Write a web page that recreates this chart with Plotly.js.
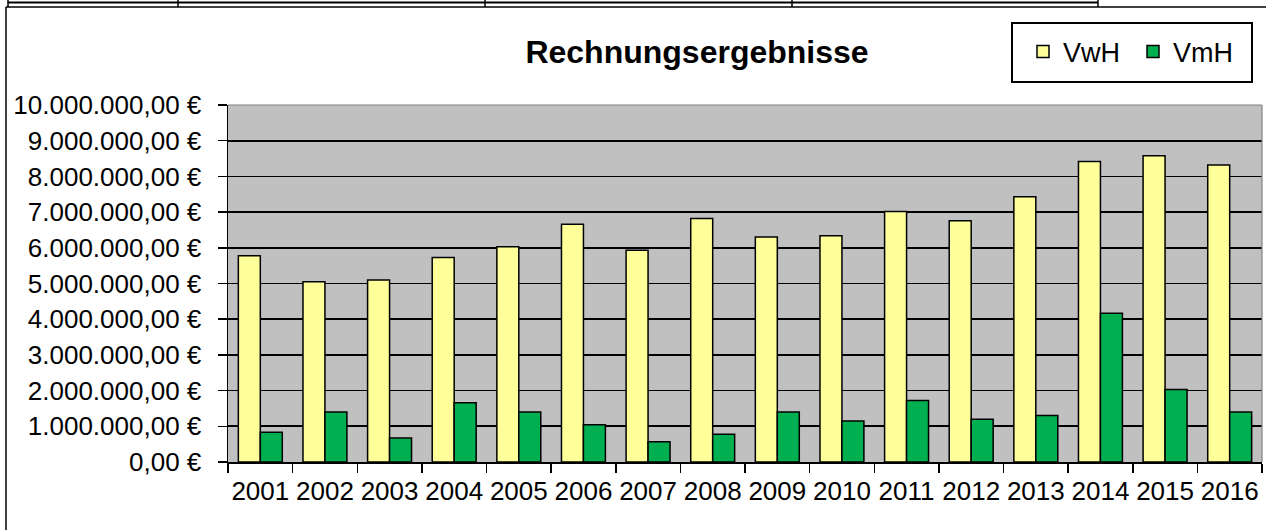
<!DOCTYPE html>
<html>
<head>
<meta charset="utf-8">
<script src="https://cdn.plot.ly/plotly-3.0.1.min.js"></script>
<style>
  html, body { margin: 0; padding: 0; background: #ffffff; }
  #chart { width: 1266px; height: 530px; }
</style>
</head>
<body>
<div id="chart"></div>
<script>
// ---- data ----
const years = ["2001","2002","2003","2004","2005","2006","2007","2008",
               "2009","2010","2011","2012","2013","2014","2015","2016"];
const vwh = [5780000, 5050000, 5100000, 5730000, 6030000, 6660000, 5930000, 6820000,
             6300000, 6340000, 7020000, 6760000, 7430000, 8420000, 8580000, 8320000];
const vmh = [830000, 1400000, 670000, 1660000, 1400000, 1040000, 570000, 780000,
             1400000, 1150000, 1720000, 1200000, 1300000, 4170000, 2030000, 1400000];
const seriesNames = ["VwH", "VmH"];
const chartTitle = "Rechnungsergebnisse";

// ---- geometry helpers (pixel -> paper) ----
const W = 1266, H = 530;
const L = 228, R = 1262, T = 105, B = 462;
const px = x => (x - L) / (R - L);
const py = y => (B - y) / (B - T);

const FONT = "Liberation Sans, Arial, sans-serif";

const traces = [
  {
    type: "bar", name: seriesNames[0], x: years, y: vwh,
    marker: { color: "#FFFF99", line: { color: "#000000", width: 1.5 } },
    hoverinfo: "skip"
  },
  {
    type: "bar", name: seriesNames[1], x: years, y: vmh,
    marker: { color: "#00B050", line: { color: "#000000", width: 1.5 } },
    hoverinfo: "skip"
  }
];

function line(x0, y0, x1, y1, color, width) {
  return { type: "line", xref: "paper", yref: "paper",
           x0: px(x0), y0: py(y0), x1: px(x1), y1: py(y1),
           line: { color: color, width: width }, layer: "above" };
}

const shapes = [
  // plot-area border (light gray top/right)
  line(L, T, R, T, "#808080", 1.2),
  line(R, T, R, B, "#808080", 1.2),
  // chart frame
  line(6, 7, 6, 530, "#000000", 1.5),
  line(6, 7, 1266, 7, "#000000", 1.5),
  // table fragment at top
  line(8, 2.5, 1098, 2.5, "#000000", 2),
  line(8, 0, 8, 7, "#000000", 1.5),
  line(178, 0, 178, 7, "#000000", 1.5),
  line(485, 0, 485, 7, "#000000", 1.5),
  line(792, 0, 792, 7, "#000000", 1.5),
  line(1098, 0, 1098, 7, "#000000", 1.5),
  // legend box
  { type: "rect", xref: "paper", yref: "paper",
    x0: px(1012), y0: py(23), x1: px(1252), y1: py(82),
    line: { color: "#000000", width: 2 }, fillcolor: "rgba(0,0,0,0)", layer: "above" }
];

const layout = {
  width: W, height: H,
  margin: { l: L, r: W - R, t: T, b: H - B, pad: 0 },
  paper_bgcolor: "#ffffff",
  plot_bgcolor: "#C0C0C0",
  separators: ",.",
  font: { family: FONT, color: "#000000", size: 26 },
  barmode: "group",
  bargap: 0.32,
  bargroupgap: 0,
  title: {
    text: "<b>" + chartTitle + "</b>",
    font: { family: FONT, size: 32, color: "#000000" },
    x: 697 / W, xanchor: "center", xref: "container",
    y: 1 - 52 / H, yanchor: "middle", yref: "container"
  },
  xaxis: {
    type: "category",
    showgrid: false,
    showline: true, linecolor: "#000000", linewidth: 1.5,
    ticks: "outside", tickson: "boundaries", ticklen: 9, tickwidth: 1.5, tickcolor: "#000000",
    tickangle: 0,
    ticklabelstandoff: 5,
    tickfont: { family: FONT, size: 26, color: "#000000" },
    fixedrange: true
  },
  yaxis: {
    range: [0, 10000000],
    dtick: 1000000, tick0: 0,
    tickformat: ",.2f", ticksuffix: " €",
    showgrid: true, gridcolor: "#000000", gridwidth: 1.6,
    zeroline: false,
    showline: true, linecolor: "#000000", linewidth: 1.5,
    ticks: "outside", ticklen: 9, tickwidth: 1.5, tickcolor: "#000000",
    ticklabelstandoff: 11,
    tickfont: { family: FONT, size: 26, color: "#000000" },
    fixedrange: true
  },
  showlegend: true,
  legend: {
    orientation: "h",
    x: px(1023), xanchor: "left",
    y: py(52), yanchor: "middle",
    bgcolor: "rgba(0,0,0,0)", borderwidth: 0,
    entrywidth: 65, entrywidthmode: "pixels",
    font: { family: FONT, size: 27, color: "#000000" },
    traceorder: "normal"
  },
  shapes: shapes
};

Plotly.newPlot("chart", traces, layout, { displayModeBar: false, staticPlot: true });
</script>
</body>
</html>
